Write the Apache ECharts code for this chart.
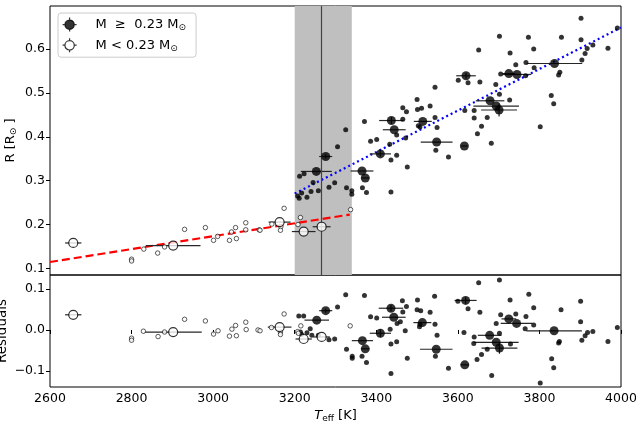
<!DOCTYPE html>
<html><head><meta charset="utf-8">
<script src="https://cdn.jsdelivr.net/npm/echarts@6/dist/echarts.min.js"></script>
<style>html,body{margin:0;padding:0;background:#fff}#c{width:636px;height:425px}</style>
</head><body><div id="c"></div>
<script>
// ---------- data ----------
// Top panel: big filled (M >= 0.23) : Teff, R, Teff half-error, R half-error
const bigHiT   = [3253,3276,3365,3373,3410,3437,3444,3514,3548,3616,3620,3679,3694,3701,3725,3745,3837];
const bigHiR   = [0.321,0.355,0.322,0.306,0.361,0.437,0.416,0.435,0.388,0.379,0.539,0.482,0.470,0.461,0.544,0.542,0.567];
const bigHiTe  = [38,16,28,10,26,30,28,22,39,8,24,35,56,44,16,35,68];
const bigHiRe  = [0,0.005,0,0,0.006,0.008,0,0,0,0,0.007,0,0,0.015,0,0,0];
// Top panel: big open (M < 0.23)
const bigLoT   = [2657,2902,3163,3222,3266];
const bigLoR   = [0.158,0.152,0.2055,0.184,0.195];
const bigLoTe  = [20,67,27,29,22];
// Top panel: small filled
const smHiT = [3207,3211,3217,3230,3212,3223,3240,3245,3258,3284,3298,3305,3325,3327,
  3340,3340,3371,3366,3376,3386,3401,3436,3436,3450,3433,3450,3465,3474,3465,3472,3476,
  3500,3501,3511,3503,3507,3532,3544,3544,3549,3546,3577,3601,3625,3651,3654,3617,3640,3640,3648,3658,3672,3682,
  3693,3702,3702,3727,3728,3705,3742,3767,3766,3773,3786,3787,3802,3829,3835,3850,3847,3854,
  3902,3902,3904,3912,3917,3931,3968,3991];
const smHiR = [0.265,0.260,0.272,0.262,0.310,0.316,0.275,0.296,0.277,0.285,0.295,0.377,0.416,0.284,
  0.277,0.269,0.435,0.284,0.273,0.390,0.394,0.347,0.274,0.358,0.383,0.404,0.466,0.457,0.440,0.397,0.331,
  0.485,0.462,0.465,0.425,0.422,0.470,0.513,0.444,0.421,0.369,0.354,0.529,0.523,0.598,0.525,0.460,0.460,0.443,0.407,0.424,0.444,0.385,
  0.519,0.629,0.497,0.484,0.591,0.543,0.564,0.569,0.539,0.627,0.600,0.557,0.423,0.494,0.475,0.547,0.541,0.627,
  0.670,0.621,0.575,0.590,0.601,0.609,0.602,0.648];
// Top panel: small open
const smLoT = [2800,2800,2830,2864,2881,2930,2981,3001,3011,3040,3045,3055,3057,3080,3080,3113,3115,3144,3166,3165,3174,3208,3214,3337];
const smLoR = [0.121,0.117,0.144,0.135,0.149,0.189,0.193,0.164,0.173,0.164,0.183,0.193,0.168,0.204,0.188,0.188,0.187,0.201,0.195,0.187,0.237,0.200,0.216,0.234];
// Fit lines (end points)
const fitLoT = [2600,3335];
const fitLoR = [0.1146,0.2227];
const fitHiT = [3200,4000];
const fitHiR = [0.2705,0.649];
// Shaded band and vertical marker
const bandT = [3200,3340];
const vlineT = 3266;

// Bottom panel residuals
const resBigHiT  = [3254,3276,3366,3373,3410,3436,3443,3513,3547,3617,3619,3678,3694,3702,3725,3744,3836];
const resBigHi   = [0.024,0.047,-0.026,-0.046,-0.008,0.053,0.031,0.018,-0.047,-0.085,0.072,-0.013,-0.030,-0.044,0.027,0.016,-0.002];
const resBigHiTe = [30,16,26,10,26,30,29,22,40,10,27,29,55,44,18,39,68];
const resBigHiE  = [0,0.005,0,0,0.010,0.008,0,0,0,0,0.008,0,0,0.014,0,0,0];
const resBigLoT  = [2657,2902,3163,3222,3266];
const resBigLo   = [0.037,-0.005,0.007,-0.022,-0.017];
const resBigLoTe = [20,70,29,20,20];
const resSmHiT = [3210,3222,3214,3217,3230,3242,3238,3258,3284,3298,3305,3325,
  3327,3341,3341,3371,3365,3376,3386,3401,3436,3434,3450,3451,3459,3464,3465,3474,3471,3476,3436,
  3501,3500,3509,3507,3506,3532,3543,3544,3549,3545,3577,3600,3625,3615,3640,3639,3647,3651,3702,3774,3728,3654,
  3901,3853,3786,3705,3742,3767,3694,3786,3765,3901,3904,3912,3918,3931,3968,3991,3849,3847,3830,3835,3802,3683,
  3702,3729,3672,3658];
const resSmHi  = [0.034,0.034,-0.005,-0.011,-0.007,-0.013,0.003,-0.013,-0.024,-0.022,0.056,0.086,
  -0.047,-0.064,-0.069,0.084,-0.064,-0.079,0.032,0.029,-0.034,0.002,-0.029,0.016,0.020,0.071,0.044,0.057,-0.002,-0.069,-0.106,
  0.073,0.049,0.047,0.014,0.008,0.043,0.082,0.014,-0.013,-0.064,-0.093,0.070,0.052,-0.006,-0.017,-0.033,-0.072,0.115,0.122,0.087,0.073,0.043,
  0.070,0.049,0.054,0.037,0.039,0.033,0.016,0.012,0.003,0.020,-0.025,-0.014,-0.006,-0.004,-0.028,0.006,-0.028,-0.032,-0.070,-0.092,-0.129,-0.111,
  -0.008,-0.034,-0.047,-0.060];
const resSmLoT = [2800,2800,2829,2865,2881,2930,2981,3001,3012,3040,3046,3055,3057,3080,3081,3110,3115,3143,3165,3165,3174,3207,3209,3215,3336];
const resSmLo  = [-0.020,-0.025,-0.003,-0.016,-0.005,0.026,0.022,-0.010,-0.002,-0.015,0.002,0.011,-0.014,0.019,0.001,0.000,-0.002,0.006,-0.005,-0.011,0.039,-0.004,-0.008,0.010,0.010];

// tick values
const xMin = 2600, xMax = 4000, xStep = 200;
const topTicks = [0.1,0.2,0.3,0.4,0.5,0.6];
const resTicks = [-0.1,0.0,0.1];

// ---------- chart ----------
const FONT = 'DejaVu Sans';
const nameHi = 'M  ≥  0.23 M⊙';
const nameLo = 'M < 0.23 M⊙';
const zip2 = (a,b) => a.map((v,i)=>[v,b[i]]);
const zip4 = (a,b,c,d) => a.map((v,i)=>[v,b[i],c[i],d ? d[i] : 0]);

function errRender(params, api){
  const t=api.value(0), r=api.value(1), dt=api.value(2), dr=api.value(3);
  const st = {stroke:'#262626', lineWidth:1.2};
  const a=api.coord([t-dt,r]), b=api.coord([t+dt,r]);
  const ch=[{type:'line',shape:{x1:a[0],y1:a[1],x2:b[0],y2:b[1]},style:st}];
  if(dr>0){
    const c=api.coord([t,r-dr]), d=api.coord([t,r+dr]);
    ch.push({type:'line',shape:{x1:c[0],y1:c[1],x2:d[0],y2:d[1]},style:st});
  }
  return {type:'group',children:ch};
}
const icon = 'path://M14,7A4,4 0 1 1 13.99,6.8Z M4,7L6,7 M14,7L16,7 M10,1L10,3 M10,11L10,13';
const fmt1 = v => (Math.abs(v)<1e-9? '0.0' : v.toFixed(1)).replace('-','\u2212');

const axisTxt = {color:'#000', fontSize:12.5, fontFamily:FONT};
const chart = echarts.init(document.getElementById('c'), null, {renderer:'canvas'});
chart.setOption({
  animation:false,
  textStyle:{fontFamily:FONT},
  grid:[
    {left:50, right:15, top:6, height:269, show:true, borderColor:'#000', borderWidth:1, backgroundColor:'transparent', containLabel:false, outerBoundsMode:'none'},
    {left:50, right:15, top:275, height:112, show:true, borderColor:'#000', borderWidth:1, backgroundColor:'transparent', containLabel:false, outerBoundsMode:'none'}
  ],
  xAxis:[
    {gridIndex:0, type:'value', min:xMin, max:xMax, interval:xStep, axisLine:{show:false}, axisTick:{show:false}, axisLabel:{show:false}, splitLine:{show:false}},
    {gridIndex:1, type:'value', min:xMin, max:xMax, interval:xStep, axisLine:{show:false},
     axisTick:{show:true, inside:false, length:4, lineStyle:{color:'#000'}},
     axisLabel:Object.assign({margin:5, formatter: v => String(v)}, axisTxt), splitLine:{show:false},
     name:'{i|T}{sub|eff} [K]', nameLocation:'middle', nameGap:21, nameMoveOverlap:false,
     nameTextStyle:{color:'#000', fontSize:13, fontFamily:FONT, rich:{i:{fontStyle:'italic', fontSize:13, fontFamily:FONT}, sub:{fontSize:9, fontFamily:FONT, padding:[6,0,0,0]}}}}
  ],
  yAxis:[
    {gridIndex:0, type:'value', min:0.085, max:0.698, axisLine:{show:false},
     axisTick:{show:true, length:4, lineStyle:{color:'#000'}, customValues:topTicks},
     axisLabel:Object.assign({margin:5, customValues:topTicks, formatter:fmt1}, axisTxt), splitLine:{show:false},
     name:'R [R{sub|⊙} ]', nameLocation:'middle', nameGap:32, nameRotate:90, nameMoveOverlap:false,
     nameTextStyle:{color:'#000', fontSize:13, fontFamily:FONT, rich:{sub:{fontSize:9, fontFamily:FONT, padding:[6,0,0,0]}}}},
    {gridIndex:1, type:'value', min:-0.139, max:0.134, axisLine:{show:false},
     axisTick:{show:true, length:4, lineStyle:{color:'#000'}, customValues:resTicks},
     axisLabel:Object.assign({margin:5, customValues:resTicks, formatter:fmt1}, axisTxt), splitLine:{show:false},
     name:'Residuals', nameLocation:'middle', nameGap:41, nameRotate:90, nameMoveOverlap:false,
     nameTextStyle:{color:'#000', fontSize:13.5, fontFamily:FONT}}
  ],
  legend:{
    left:58, top:13, orient:'vertical', itemWidth:30, itemHeight:14, itemGap:5,
    padding:[4,10,4,4], backgroundColor:'rgba(255,255,255,0.8)', borderColor:'#ccc', borderWidth:1, borderRadius:3,
    textStyle:{fontSize:13, fontFamily:FONT, color:'#000', rich:{g:{width:6}, sub:{fontSize:9, fontFamily:FONT, padding:[7,0,0,0]}}},
    formatter: n => '{g|}' + n.replace('M⊙','M{sub|⊙}'),
    data:[
      {name:nameHi, icon:icon, itemStyle:{color:'#000', borderColor:'#000', borderWidth:1.2}},
      {name:nameLo, icon:icon, itemStyle:{color:'#fff', borderColor:'#000', borderWidth:1.2}}
    ]
  },
  series:[
    // shading and vertical marker
    {type:'line', xAxisIndex:0, yAxisIndex:0, data:[], z:1, silent:true,
     markArea:{silent:true, itemStyle:{color:'#bfbfbf'}, data:[[{xAxis:bandT[0]},{xAxis:bandT[1]}]]},
     markLine:{silent:true, symbol:'none', label:{show:false}, lineStyle:{color:'#444', width:1.2, type:'solid'}, data:[{xAxis:vlineT}]}},
    // fit lines
    {name:'fitLo', type:'line', xAxisIndex:0, yAxisIndex:0, data:zip2(fitLoT,fitLoR), symbol:'none', z:3,
     lineStyle:{color:'#ff0000', width:2.2, type:[8,4]}},
    {name:'fitHi', type:'line', xAxisIndex:0, yAxisIndex:0, data:zip2(fitHiT,fitHiR), symbol:'none', z:3,
     lineStyle:{color:'#0000ff', width:2.2, type:[2,3]}},
    // top error bars
    {name:'errHi', type:'custom', xAxisIndex:0, yAxisIndex:0, renderItem:errRender, data:zip4(bigHiT,bigHiR,bigHiTe,bigHiRe), z:4, encode:{x:0,y:1}},
    {name:'errLo', type:'custom', xAxisIndex:0, yAxisIndex:0, renderItem:errRender, data:zip4(bigLoT,bigLoR,bigLoTe), z:4, encode:{x:0,y:1}},
    // top points
    {name:'smHi', type:'scatter', xAxisIndex:0, yAxisIndex:0, data:zip2(smHiT,smHiR), symbolSize:5, itemStyle:{color:'#000'}, z:5},
    {name:'smLo', type:'scatter', xAxisIndex:0, yAxisIndex:0, data:zip2(smLoT,smLoR), symbolSize:4.5, itemStyle:{color:'#fff', borderColor:'#000', borderWidth:0.8}, z:5},
    {name:nameHi, type:'scatter', xAxisIndex:0, yAxisIndex:0, data:zip2(bigHiT,bigHiR), symbolSize:9, itemStyle:{color:'#000'}, z:6},
    {name:nameLo, type:'scatter', xAxisIndex:0, yAxisIndex:0, data:zip2(bigLoT,bigLoR), symbolSize:9, itemStyle:{color:'#fff', borderColor:'#000', borderWidth:1.2}, z:6},
    // bottom error bars
    {name:'rerrHi', type:'custom', xAxisIndex:1, yAxisIndex:1, renderItem:errRender, data:zip4(resBigHiT,resBigHi,resBigHiTe,resBigHiE), z:4, encode:{x:0,y:1}},
    {name:'rerrLo', type:'custom', xAxisIndex:1, yAxisIndex:1, renderItem:errRender, data:zip4(resBigLoT,resBigLo,resBigLoTe), z:4, encode:{x:0,y:1}},
    // bottom points
    {name:'rsmHi', type:'scatter', xAxisIndex:1, yAxisIndex:1, data:zip2(resSmHiT,resSmHi), symbolSize:5, itemStyle:{color:'#000'}, z:5},
    {name:'rsmLo', type:'scatter', xAxisIndex:1, yAxisIndex:1, data:zip2(resSmLoT,resSmLo), symbolSize:4.5, itemStyle:{color:'#fff', borderColor:'#000', borderWidth:0.8}, z:5},
    {name:'rbigHi', type:'scatter', xAxisIndex:1, yAxisIndex:1, data:zip2(resBigHiT,resBigHi), symbolSize:9, itemStyle:{color:'#000'}, z:6},
    {name:'rbigLo', type:'scatter', xAxisIndex:1, yAxisIndex:1, data:zip2(resBigLoT,resBigLo), symbolSize:9, itemStyle:{color:'#fff', borderColor:'#000', borderWidth:1.2}, z:6}
  ]
});
</script></body></html>
